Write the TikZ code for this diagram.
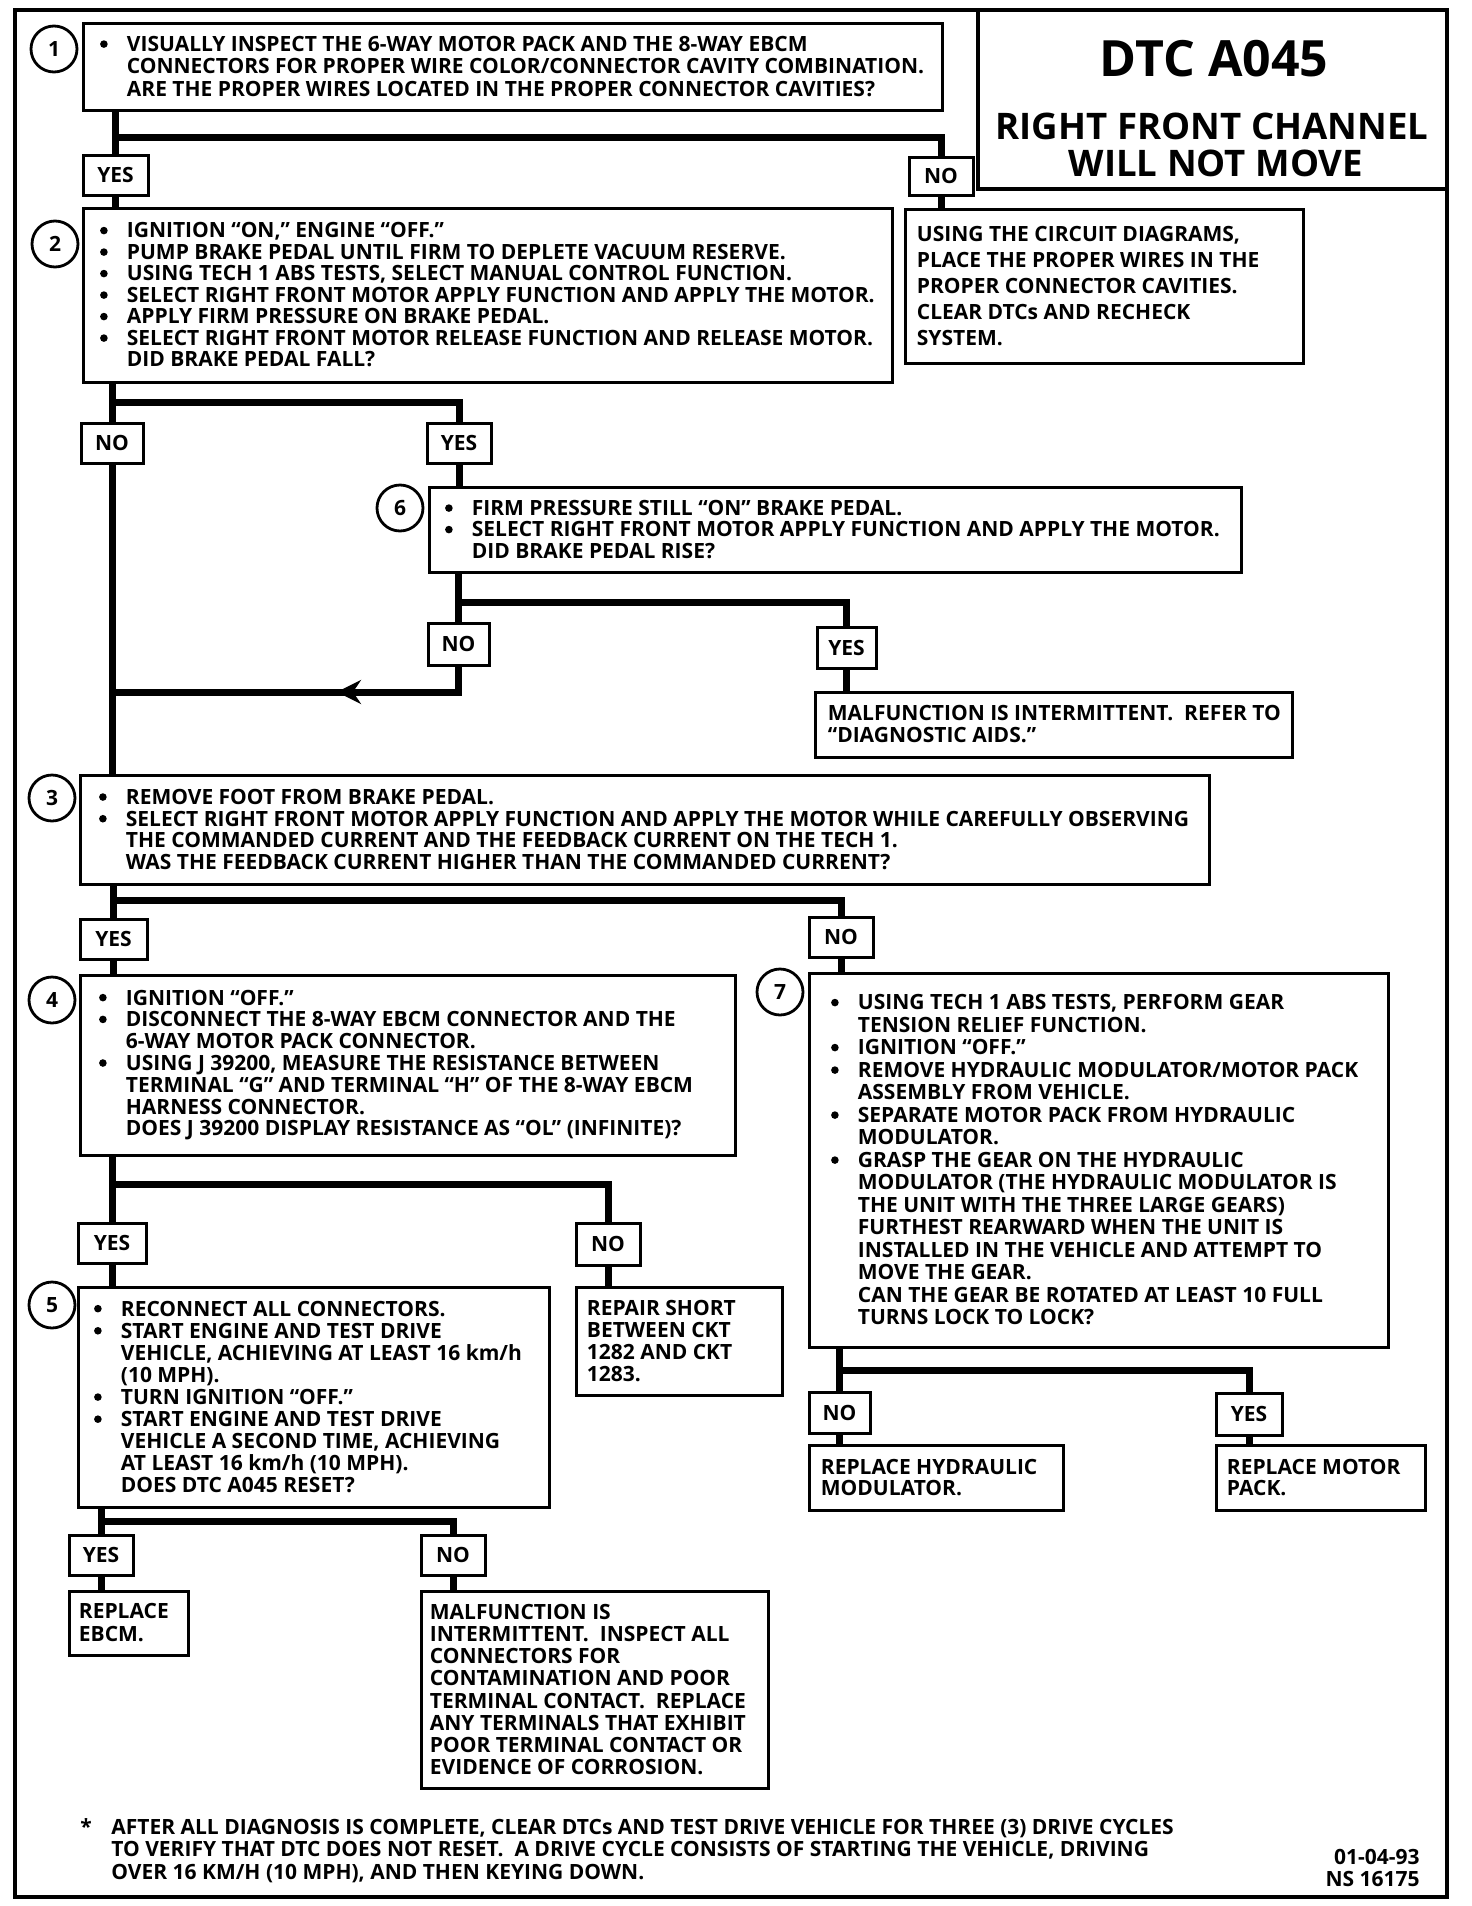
\documentclass[tikz,border=0pt]{standalone}
\usepackage{fontspec}
\setmainfont{Open Sans}
\newfontfamily\osfam{Open Sans}
\usetikzlibrary{arrows.meta,decorations.markings}
\pgfdeclarelayer{paper}\pgfdeclarelayer{wires}
\pgfsetlayers{paper,wires,main}
\newcommand\bfnt[1]{\osfam\bfseries\fontsize{10.5pt}{#1}\selectfont}
\newcommand\bul{\llap{\tikz[baseline=0pt]\fill[black] (0pt,3.7pt) circle[radius=1.9pt];\hspace{9.6pt}}}
\newcommand\bx[6][]{\node[#1, minimum width={(#5-#3)*0.5pt}, minimum height={(#6-#4)*0.5pt}] (#2) at ({(#3+#5)/2},{(#4+#6)/2})}
\tikzset{
  box/.style={draw, line width=1.5pt, inner sep=0pt, fill=white},
  lab/.style={box, font={\bfnt{12pt}}},
  frame/.style={draw, line width=2pt, inner sep=0pt},
  conn/.style={line width=3.5pt},
  num/.style={circle, draw, line width=1.4pt, minimum size=23pt, inner sep=0pt, fill=white, font={\bfnt{12pt}}},
  txt/.style={inner sep=0pt, anchor=west, align=left},
  arrowmid/.style={postaction={decorate}, decoration={markings, mark=at position #1 with {\arrow{Stealth[length=12pt,width=12pt,inset=4pt]}}}},
  ttl/.style={inner sep=0pt, font={\osfam\bfseries\fontsize{#1}{#1}\selectfont}}
}
\begin{document}
\begin{tikzpicture}[x=0.5pt,y=-0.5pt]
\useasboundingbox (0,0) rectangle (1472,1906);
\begin{pgfonlayer}{paper}
\fill[white] (0,0) rectangle (1472,1906);
\end{pgfonlayer}

% frame and title
\bx[frame]{frm}{15}{10}{1447}{1897} {};
\bx[frame]{tb}{978}{10}{1447}{189} {};
\node[ttl=25pt] (tt1) at (1214,59) {DTC A045};
\node[ttl=18.3pt] (tt2) at (1212,126) {RIGHT FRONT CHANNEL};
\node[ttl=18.3pt] (tt3) at (1216,163) {WILL NOT MOVE};

% box 1
\bx[box]{b1}{83}{23}{942}{110} {};
\node[num] (c1) at (54,49) {1};
\node[txt, font={\bfnt{11.25pt}}] (t1) at ([xshift=22.5pt]b1.west) {\bul VISUALLY INSPECT THE 6-WAY MOTOR PACK AND THE 8-WAY EBCM\\ CONNECTORS FOR PROPER WIRE COLOR/CONNECTOR CAVITY COMBINATION.\\ ARE THE PROPER WIRES LOCATED IN THE PROPER CONNECTOR CAVITIES?};
\bx[lab]{y1}{83}{155}{148}{195} {YES};
\bx[lab]{n1}{909}{157}{973}{195} {NO};

% circuit box
\bx[box]{bn1}{905}{209}{1303}{363} {};
\node[txt, font={\bfnt{12.9pt}}] (tn1) at ([xshift=6.5pt]bn1.west) {USING THE CIRCUIT DIAGRAMS,\\ PLACE THE PROPER WIRES IN THE\\ PROPER CONNECTOR CAVITIES.\\ CLEAR DTCs AND RECHECK\\ SYSTEM.};

% box 2
\bx[box]{b2}{83}{208}{892}{382} {};
\node[num] (c2) at (55,244) {2};
\node[txt, font={\bfnt{10.75pt}}] (t2) at ([xshift=22.5pt]b2.west) {\bul IGNITION “ON,” ENGINE “OFF.”\\ \bul PUMP BRAKE PEDAL UNTIL FIRM TO DEPLETE VACUUM RESERVE.\\ \bul USING TECH 1 ABS TESTS, SELECT MANUAL CONTROL FUNCTION.\\ \bul SELECT RIGHT FRONT MOTOR APPLY FUNCTION AND APPLY THE MOTOR.\\ \bul APPLY FIRM PRESSURE ON BRAKE PEDAL.\\ \bul SELECT RIGHT FRONT MOTOR RELEASE FUNCTION AND RELEASE MOTOR.\\ DID BRAKE PEDAL FALL?};
\bx[lab]{n2}{81}{423}{143}{463} {NO};
\bx[lab]{y2}{427}{423}{491}{463} {YES};

% box 6
\bx[box]{b6}{429}{487}{1241}{572} {};
\node[num] (c6) at (400,508) {6};
\node[txt, font={\bfnt{10.75pt}}] (t6) at ([xshift=22pt]b6.west) {\bul FIRM PRESSURE STILL “ON” BRAKE PEDAL.\\ \bul SELECT RIGHT FRONT MOTOR APPLY FUNCTION AND APPLY THE MOTOR.\\ DID BRAKE PEDAL RISE?};
\bx[lab]{n6}{428}{623}{489}{665} {NO};
\bx[lab]{y6}{817}{627}{876}{668} {YES};
\bx[box]{bi}{815}{692}{1292}{757} {};
\node[txt, font={\bfnt{11pt}}] (ti) at ([xshift=7pt]bi.west) {MALFUNCTION IS INTERMITTENT.\ \ REFER TO\\ “DIAGNOSTIC AIDS.”};

% box 3
\bx[box]{b3}{80}{775}{1209}{884} {};
\node[num] (c3) at (52,798) {3};
\node[txt, font={\bfnt{10.85pt}}] (t3) at ([xshift=23.5pt]b3.west) {\bul REMOVE FOOT FROM BRAKE PEDAL.\\ \bul SELECT RIGHT FRONT MOTOR APPLY FUNCTION AND APPLY THE MOTOR WHILE CAREFULLY OBSERVING\\ THE COMMANDED CURRENT AND THE FEEDBACK CURRENT ON THE TECH 1.\\ WAS THE FEEDBACK CURRENT HIGHER THAN THE COMMANDED CURRENT?};
\bx[lab]{y3}{80}{919}{147}{959} {YES};
\bx[lab]{n3}{809}{917}{873}{957} {NO};

% box 4
\bx[box]{b4}{80}{975}{735}{1155} {};
\node[num] (c4) at (52,1000) {4};
\node[txt, font={\bfnt{10.9pt}}] (t4) at ([xshift=23.5pt]b4.west) {\bul IGNITION “OFF.”\\ \bul DISCONNECT THE 8-WAY EBCM CONNECTOR AND THE\\ 6-WAY MOTOR PACK CONNECTOR.\\ \bul USING J 39200, MEASURE THE RESISTANCE BETWEEN\\ TERMINAL “G” AND TERMINAL “H” OF THE 8-WAY EBCM\\ HARNESS CONNECTOR.\\ DOES J 39200 DISPLAY RESISTANCE AS “OL” (INFINITE)?};

% box 7
\bx[box]{b7}{809}{973}{1388}{1347} {};
\node[num] (c7) at (780,992) {7};
\node[txt, font={\bfnt{11.25pt}}] (t7) at ([xshift=25pt]b7.west) {\bul USING TECH 1 ABS TESTS, PERFORM GEAR\\ TENSION RELIEF FUNCTION.\\ \bul IGNITION “OFF.”\\ \bul REMOVE HYDRAULIC MODULATOR/MOTOR PACK\\ ASSEMBLY FROM VEHICLE.\\ \bul SEPARATE MOTOR PACK FROM HYDRAULIC\\ MODULATOR.\\ \bul GRASP THE GEAR ON THE HYDRAULIC\\ MODULATOR (THE HYDRAULIC MODULATOR IS\\ THE UNIT WITH THE THREE LARGE GEARS)\\ FURTHEST REARWARD WHEN THE UNIT IS\\ INSTALLED IN THE VEHICLE AND ATTEMPT TO\\ MOVE THE GEAR.\\ CAN THE GEAR BE ROTATED AT LEAST 10 FULL\\ TURNS LOCK TO LOCK?};

\bx[lab]{y4}{78}{1223}{146}{1263} {YES};
\bx[lab]{n4}{576}{1223}{640}{1265} {NO};

% box 5
\bx[box]{b5}{78}{1287}{549}{1507} {};
\node[num] (c5) at (52,1305) {5};
\node[txt, font={\bfnt{11.05pt}}] (t5) at ([xshift=22pt]b5.west) {\bul RECONNECT ALL CONNECTORS.\\ \bul START ENGINE AND TEST DRIVE\\ VEHICLE, ACHIEVING AT LEAST 16 km/h\\ (10 MPH).\\ \bul TURN IGNITION “OFF.”\\ \bul START ENGINE AND TEST DRIVE\\ VEHICLE A SECOND TIME, ACHIEVING\\ AT LEAST 16 km/h (10 MPH).\\ DOES DTC A045 RESET?};
\bx[box]{br}{576}{1287}{782}{1395} {};
\node[txt, font={\bfnt{11.15pt}}] (tr) at ([xshift=6pt]br.west) {REPAIR SHORT\\ BETWEEN CKT\\ 1282 AND CKT\\ 1283.};

\bx[lab]{n7}{809}{1392}{870}{1433} {NO};
\bx[lab]{y7}{1216}{1393}{1282}{1435} {YES};
\bx[box]{bh}{809}{1445}{1063}{1510} {};
\node[txt, font={\bfnt{10.5pt}}] (th) at ([xshift=6.5pt]bh.west) {REPLACE HYDRAULIC\\ MODULATOR.};
\bx[box]{bm}{1216}{1445}{1425}{1510} {};
\node[txt, font={\bfnt{10.5pt}}] (tm) at ([xshift=6pt]bm.west) {REPLACE MOTOR\\ PACK.};

\bx[lab]{y5}{69}{1535}{133}{1575} {YES};
\bx[lab]{n5}{421}{1535}{485}{1575} {NO};
\bx[box]{be}{69}{1591}{188}{1655} {};
\node[txt, font={\bfnt{11.5pt}}] (te) at ([xshift=5.5pt]be.west) {REPLACE\\ EBCM.};
\bx[box]{bf}{421}{1591}{768}{1788} {};
\node[txt, font={\bfnt{11.05pt}}] (tf) at ([xshift=5pt]bf.west) {MALFUNCTION IS\\ INTERMITTENT.\ \ INSPECT ALL\\ CONNECTORS FOR\\ CONTAMINATION AND POOR\\ TERMINAL CONTACT.\ \ REPLACE\\ ANY TERMINALS THAT EXHIBIT\\ POOR TERMINAL CONTACT OR\\ EVIDENCE OF CORROSION.};

% footnote
\node[inner sep=0pt, font={\bfnt{11pt}}] (star) at (86,1826) {*};
\node[txt, font={\bfnt{11.2pt}}] (fn) at (111,1851) {AFTER ALL DIAGNOSIS IS COMPLETE, CLEAR DTCs AND TEST DRIVE VEHICLE FOR THREE (3) DRIVE CYCLES\\ TO VERIFY THAT DTC DOES NOT RESET.\ \ A DRIVE CYCLE CONSISTS OF STARTING THE VEHICLE, DRIVING\\ OVER 16 KM/H (10 MPH), AND THEN KEYING DOWN.};
\node[inner sep=0pt, anchor=east, align=right, font={\bfnt{11pt}}] (dt) at (1420,1868) {01-04-93\\ NS 16175};

% connectors
\coordinate (j1) at (115.5,137);
\coordinate (j2) at (112,402);
\coordinate (j6) at (458.5,602);
\coordinate (r6) at (112,692);
\coordinate (j3) at (113.5,900);
\coordinate (j4) at (112,1184);
\coordinate (j7) at (839.5,1370);
\coordinate (j5) at (101,1521);
\begin{pgfonlayer}{wires}
\draw[conn] (b1.south -| y1) -- (y1.north);
\draw[conn] (y1.south) -- (b2.north -| y1);
\draw[conn] (j1) -| (n1.north);
\draw[conn] (n1.south) -- (bn1.north -| n1);
\draw[conn] (b2.south -| n2) -- (n2.north);
\draw[conn] (n2.south) -- (b3.north -| n2);
\draw[conn] (j2) -| (y2.north);
\draw[conn] (y2.south) -- (b6.north -| y2);
\draw[conn] (b6.south -| n6) -- (n6.north);
\draw[conn] (j6) -| (y6.north);
\draw[conn] (y6.south) -- (bi.north -| y6);
\draw[conn, arrowmid=73.5pt] (n6.south) |- (r6);
\draw[conn] (b3.south -| y3) -- (y3.north);
\draw[conn] (y3.south) -- (b4.north -| y3);
\draw[conn] (j3) -| (n3.north);
\draw[conn] (n3.south) -- (b7.north -| n3);
\draw[conn] (b4.south -| y4) -- (y4.north);
\draw[conn] (y4.south) -- (b5.north -| y4);
\draw[conn] (j4) -| (n4.north);
\draw[conn] (n4.south) -- (br.north -| n4);
\draw[conn] (b7.south -| n7) -- (n7.north);
\draw[conn] (n7.south) -- (bh.north -| n7);
\draw[conn] (j7) -| (y7.north);
\draw[conn] (y7.south) -- (bm.north -| y7);
\draw[conn] (b5.south -| y5) -- (y5.north);
\draw[conn] (y5.south) -- (be.north -| y5);
\draw[conn] (j5) -| (n5.north);
\draw[conn] (n5.south) -- (bf.north -| n5);
\end{pgfonlayer}
\end{tikzpicture}
\end{document}
